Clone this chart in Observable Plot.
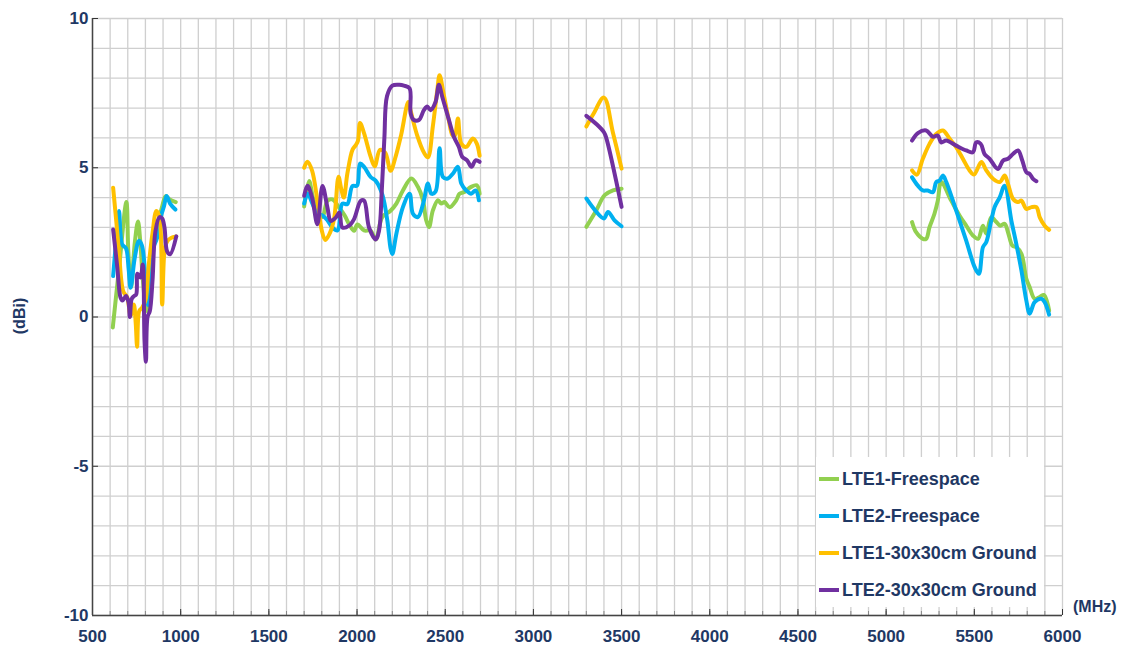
<!DOCTYPE html>
<html>
<head>
<meta charset="utf-8">
<script src="https://cdn.jsdelivr.net/npm/d3@7"></script>
<script src="https://cdn.jsdelivr.net/npm/@observablehq/plot@0.6"></script>
<style>
  html, body { margin: 0; padding: 0; background: #fff; }
  #chart { position: relative; width: 1121px; height: 654px; }
</style>
</head>
<body>
<div id="chart"></div>
<script>
// ---- series names & colours ----
const seriesNames = ["LTE1-Freespace", "LTE2-Freespace", "LTE1-30x30cm Ground", "LTE2-30x30cm Ground"];
const seriesColors = ["#92d050", "#00b0f0", "#ffc000", "#7030a0"];

// ---- tick values ----
const xTicks = [500, 1000, 1500, 2000, 2500, 3000, 3500, 4000, 4500, 5000, 5500, 6000];
const yTicks = [-10, -5, 0, 5, 10];

// ---- LTE1-Freespace [MHz, dBi] ----
const lte1FreeLow = [[615,-0.35],[650,1.6],[692,3.85],[703,2.2],[718,1.0],[740,2.5],[758,3.2],[770,2.6],[785,1.3],[806,0.2],[825,1.3],[843,2.3],[870,3.1],[895,3.7],[915,4.05],[935,3.95],[972,3.85]];
const lte1FreeMid = [[1700,3.7],[1728,4.56],[1750,4.0],[1775,3.6],[1804,3.35],[1832,3.89],[1860,3.94],[1898,3.67],[1930,3.4],[1955,3.11],[1983,2.89],[2002,3.1],[2040,2.9],[2077,2.89],[2106,2.6],[2143,3.35],[2190,3.56],[2223,3.8],[2260,4.24],[2308,4.64],[2345,4.36],[2374,3.91],[2392,3.24],[2408,3.01],[2430,3.57],[2459,3.91],[2477,3.8],[2496,3.85],[2525,3.68],[2562,3.91],[2581,4.13],[2609,4.19],[2647,4.36],[2679,4.41],[2695,4.13]];
const lte1FreeB42 = [[3300,3.02],[3357,3.58],[3404,4.08],[3451,4.24],[3500,4.3]];
const lte1FreeHigh = [[5147,3.18],[5170,2.84],[5208,2.62],[5227,2.62],[5246,3.01],[5274,3.46],[5293,3.9],[5312,4.52],[5369,3.9],[5416,3.4],[5454,3.06],[5492,2.73],[5521,2.62],[5549,3.06],[5568,2.79],[5596,3.34],[5625,3.18],[5647,3.06],[5672,3.12],[5691,2.84],[5716,2.39],[5738,2.34],[5767,2.12],[5795,1.28],[5814,1.0],[5842,0.61],[5871,0.67],[5894,0.74],[5913,0.5],[5924,0.22]];

// ---- LTE2-Freespace ----
const lte2FreeLow = [[617,1.37],[633,2.5],[650,3.55],[668,2.43],[690,2.3],[705,1.6],[716,0.98],[740,2.0],[763,2.55],[780,2.4],[800,1.32],[815,0.4],[825,0.6],[838,2.2],[867,2.66],[886,3.33],[905,3.7],[920,4.05],[940,3.8],[970,3.6]];
const lte2FreeMid = [[1700,3.8],[1720,4.13],[1747,3.8],[1775,3.46],[1804,3.4],[1832,3.24],[1860,3.0],[1889,2.9],[1917,3.8],[1945,3.78],[1974,4.39],[2000,4.4],[2017,5.14],[2040,5.03],[2077,4.69],[2106,4.56],[2143,4.11],[2172,3.22],[2190,2.3],[2200,2.11],[2223,2.79],[2260,3.68],[2298,4.13],[2317,3.46],[2345,3.35],[2375,3.8],[2402,4.47],[2421,4.13],[2445,4.2],[2468,5.65],[2487,4.69],[2515,4.64],[2543,4.8],[2572,5.03],[2591,4.47],[2619,4.24],[2647,4.13],[2672,4.24],[2691,3.91]];
const lte2FreeB42 = [[3300,3.97],[3357,3.52],[3400,3.3],[3423,3.52],[3460,3.24],[3500,3.04]];
const lte2FreeHigh = [[5147,4.68],[5180,4.4],[5208,4.24],[5236,4.24],[5265,4.18],[5284,4.52],[5303,4.57],[5322,4.74],[5341,4.52],[5397,3.57],[5454,2.56],[5502,1.67],[5526,1.45],[5549,2.34],[5568,2.51],[5596,3.23],[5615,3.68],[5644,4.01],[5672,4.4],[5710,3.23],[5738,2.45],[5767,1.56],[5795,0.55],[5814,0.11],[5842,0.5],[5880,0.61],[5899,0.5],[5924,0.08]];

// ---- LTE1-30x30cm Ground ----
const lte1GndLow = [[617,4.33],[635,3.2],[650,2.2],[674,0.87],[697,0.65],[716,0.05],[734,0.42],[745,-0.2],[753,-1.0],[765,0.2],[780,0.3],[800,0.55],[820,1.8],[840,2.8],[862,3.55],[880,3.33],[895,0.42],[910,2.3],[925,2.55],[945,2.65],[975,2.7]];
const lte1GndMid = [[1700,5.0],[1719,5.2],[1745,4.9],[1775,3.9],[1800,2.9],[1820,2.58],[1845,2.8],[1870,3.3],[1895,4.7],[1910,4.3],[1925,4.0],[1945,4.8],[1974,5.6],[1992,5.75],[2005,5.9],[2017,6.5],[2040,6.15],[2077,5.37],[2100,5.05],[2130,5.6],[2160,5.5],[2190,4.9],[2220,5.4],[2250,6.1],[2290,7.2],[2300,7.0],[2340,6.1],[2380,5.5],[2402,5.35],[2430,6.4],[2455,7.6],[2468,8.1],[2490,7.5],[2520,6.6],[2540,6.1],[2553,6.04],[2572,6.65],[2591,5.81],[2619,5.7],[2657,5.98],[2679,5.81],[2695,5.4]];
const lte1GndB42 = [[3300,6.38],[3340,6.8],[3400,7.35],[3450,6.2],[3500,4.97]];
const lte1GndHigh = [[5147,4.91],[5174,4.77],[5208,5.3],[5246,5.8],[5284,6.13],[5322,6.25],[5360,5.97],[5397,5.69],[5435,5.3],[5473,4.91],[5498,4.77],[5540,5.19],[5568,4.91],[5606,4.63],[5644,4.52],[5672,4.74],[5691,4.46],[5719,3.96],[5748,3.85],[5767,3.9],[5795,3.62],[5824,3.68],[5852,3.68],[5871,3.34],[5899,3.06],[5924,2.92]];

// ---- LTE2-30x30cm Ground ----
const lte2GndLow = [[617,2.93],[640,1.7],[659,0.65],[670,0.55],[690,0.7],[704,0.5],[712,0.0],[722,0.6],[735,0.7],[748,0.76],[755,1.45],[772,1.32],[785,1.76],[795,-0.8],[803,-1.5],[812,0.0],[825,0.2],[840,1.2],[857,2.88],[880,3.35],[895,3.3],[908,3.0],[923,2.2],[940,2.1],[975,2.7]];
const lte2GndMid = [[1700,4.06],[1719,4.4],[1745,4.0],[1775,3.11],[1804,4.39],[1832,3.67],[1851,3.22],[1879,3.33],[1900,3.5],[1917,3.0],[1955,3.06],[1983,3.28],[2021,3.89],[2040,3.9],[2068,3.0],[2106,2.6],[2125,2.9],[2140,4.2],[2155,6.0],[2170,7.4],[2200,7.75],[2240,7.78],[2266,7.75],[2298,7.66],[2304,6.82],[2322,6.6],[2351,6.6],[2379,6.93],[2398,7.05],[2417,6.93],[2445,7.2],[2464,7.78],[2483,7.38],[2521,6.6],[2549,6.04],[2577,5.7],[2596,5.37],[2624,5.25],[2649,5.03],[2672,5.25],[2695,5.2]];
const lte2GndB42 = [[3300,6.74],[3360,6.45],[3400,6.19],[3413,6.0],[3500,3.69]];
const lte2GndHigh = [[5147,5.91],[5180,6.16],[5227,6.25],[5265,6.04],[5293,6.08],[5312,5.85],[5341,5.91],[5397,5.74],[5454,5.58],[5492,5.52],[5511,5.85],[5536,5.8],[5558,5.46],[5587,5.3],[5634,4.96],[5663,5.24],[5691,5.3],[5719,5.46],[5748,5.58],[5772,5.24],[5795,4.85],[5814,4.79],[5833,4.63],[5852,4.55]];

const seriesBands = [
  [lte1FreeLow, lte1FreeMid, lte1FreeB42, lte1FreeHigh],
  [lte2FreeLow, lte2FreeMid, lte2FreeB42, lte2FreeHigh],
  [lte1GndLow, lte1GndMid, lte1GndB42, lte1GndHigh],
  [lte2GndLow, lte2GndMid, lte2GndB42, lte2GndHigh]
];

const rows = [];
seriesBands.forEach((bands, si) => {
  bands.forEach((pts, bi) => {
    pts.forEach(([f, v]) => rows.push({series: seriesNames[si], band: bi, key: si + "-" + bi, f, v}));
  });
});

const navy = "#1f3864";
const font = "'Liberation Sans', Arial, sans-serif";

const plot = Plot.plot({
  width: 1121,
  height: 654,
  marginLeft: 92,
  marginRight: 59,
  marginTop: 18,
  marginBottom: 39,
  style: {fontFamily: font, background: "#fff", overflow: "visible"},
  x: {domain: [500, 6000], label: null},
  y: {domain: [-10, 10], label: null},
  color: {domain: seriesNames, range: seriesColors},
  marks: [
    Plot.gridX(d3.range(500, 6001, 100), {stroke: "#cfcfcf", strokeOpacity: 1, strokeWidth: 1.3}),
    Plot.gridY(d3.range(-10, 10.01, 1), {stroke: "#cfcfcf", strokeOpacity: 1, strokeWidth: 1.3}),
    Plot.axisX(d3.range(500, 6001, 100), {tickSize: -4, text: null, stroke: "#888"}),
    Plot.axisX(xTicks, {tickSize: -6, tickPadding: 20, stroke: "#333", fill: navy, fontSize: 17, fontWeight: "bold", tickFormat: d => String(d)}),
    Plot.axisY(yTicks, {tickSize: -6, tickPadding: 10, stroke: "#333", fill: navy, fontSize: 17, fontWeight: "bold", tickFormat: d => String(d)}),
    Plot.ruleX([500], {stroke: "#444", strokeWidth: 1.5}),
    Plot.ruleY([-10], {stroke: "#444", strokeWidth: 1.5}),
    Plot.line(rows, {x: "f", y: "v", z: "key", stroke: "series", strokeWidth: 4, curve: "catmull-rom", strokeLinejoin: "round", strokeLinecap: "round"})
  ]
});

document.getElementById("chart").appendChild(plot);

const svg = d3.select(plot);
// axis titles
svg.append("text")
  .attr("transform", "translate(21,316) rotate(-90)")
  .attr("text-anchor", "middle").attr("dominant-baseline", "middle")
  .attr("fill", navy).attr("font-size", 16).attr("font-weight", "bold")
  .attr("font-family", font).text("(dBi)");
svg.append("text")
  .attr("x", 1073).attr("y", 606).attr("text-anchor", "start").attr("dominant-baseline", "central")
  .attr("fill", navy).attr("font-size", 16).attr("font-weight", "bold")
  .attr("font-family", font).text("(MHz)");

// legend
const lg = svg.append("g");
lg.append("rect").attr("x", 816).attr("y", 457).attr("width", 228).attr("height", 150).attr("fill", "#fff");
seriesNames.forEach((name, i) => {
  const cy = 479 + i * 37;
  lg.append("line").attr("x1", 819).attr("x2", 839).attr("y1", cy).attr("y2", cy)
    .attr("stroke", seriesColors[i]).attr("stroke-width", 4);
  lg.append("text").attr("x", 842).attr("y", cy).attr("text-anchor", "start").attr("dominant-baseline", "central")
    .attr("fill", navy).attr("font-size", 18).attr("font-weight", "bold")
    .attr("font-family", font).text(name);
});
</script>
</body>
</html>
